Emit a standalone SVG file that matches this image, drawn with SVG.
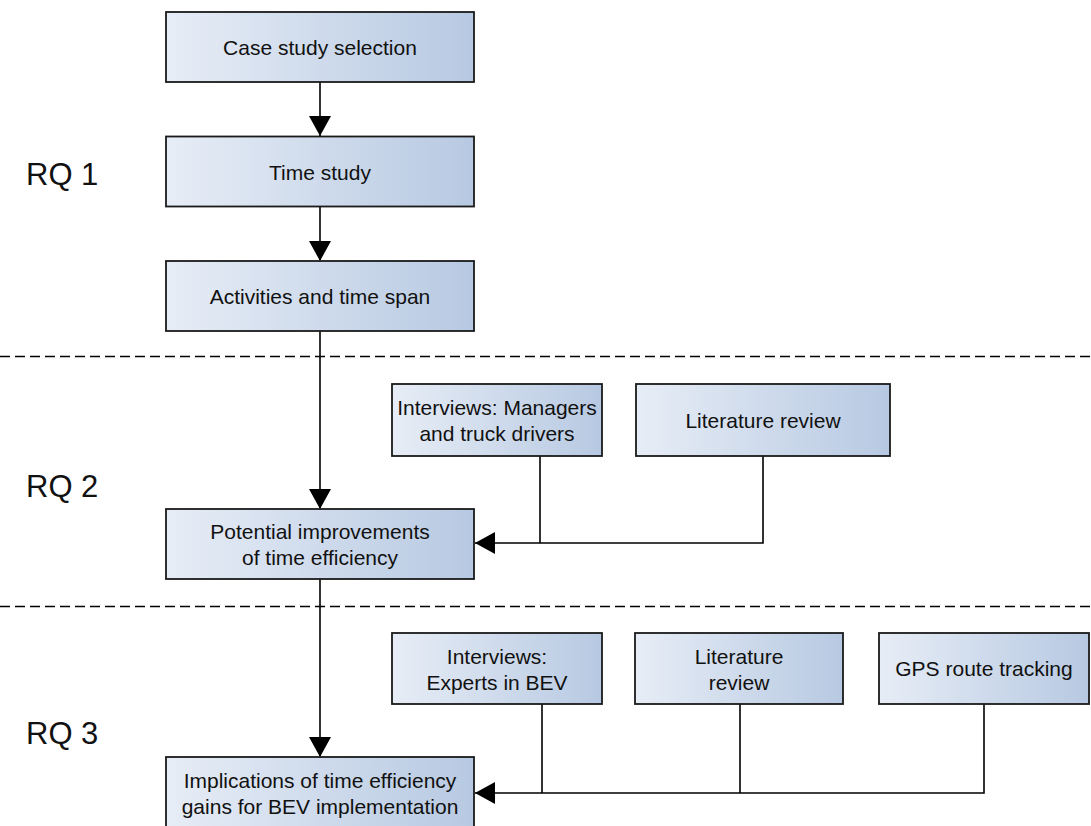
<svg xmlns="http://www.w3.org/2000/svg" width="1091" height="826" viewBox="0 0 1091 826">
  <style>
    .box { fill: url(#boxFill); stroke: #1a1a1a; stroke-width: 1.8; }
    .lbl { font-family: "Liberation Sans", Arial, sans-serif; font-size: 21px; fill: #111; text-anchor: middle; }
    .rq { font-family: "Liberation Sans", Arial, sans-serif; font-size: 31px; fill: #111; }
    .conn { fill: none; stroke: #000; stroke-width: 1.6; }
    .sep { stroke: #000; stroke-width: 1.3; stroke-dasharray: 10 5; }
  </style>
  <defs>
    <linearGradient id="boxFill" x1="0" y1="0" x2="1" y2="0">
      <stop offset="0" stop-color="#e7edf6"/>
      <stop offset="1" stop-color="#b7c9e2"/>
    </linearGradient>
    <marker id="arrow" markerUnits="userSpaceOnUse" markerWidth="20" markerHeight="22" refX="20" refY="11" orient="auto" viewBox="0 0 20 22">
      <path d="M0,0 L20,11 L0,22 z" fill="#000"/>
    </marker>
  </defs>

  <rect width="1091" height="826" fill="#fff"/>

  <!-- section separators -->
  <line class="sep" x1="0" y1="356.5" x2="1091" y2="356.5"/>
  <line class="sep" x1="0" y1="606.5" x2="1091" y2="606.5"/>

  <!-- research question labels -->
  <text class="rq" x="26" y="185">RQ 1</text>
  <text class="rq" x="26" y="497">RQ 2</text>
  <text class="rq" x="26" y="744">RQ 3</text>

  <!-- connectors -->
  <g id="connectors">
    <path class="conn" d="M320,82 V136" marker-end="url(#arrow)"/>
    <path class="conn" d="M320,207 V261" marker-end="url(#arrow)"/>
    <path class="conn" d="M320,331 V509" marker-end="url(#arrow)"/>
    <path class="conn" d="M320,579 V757" marker-end="url(#arrow)"/>
    <path class="conn" d="M540,456 V543"/>
    <path class="conn" d="M763,456 V543 H475" marker-end="url(#arrow)"/>
    <path class="conn" d="M542,704 V793"/>
    <path class="conn" d="M740,704 V793"/>
    <path class="conn" d="M984,704 V793 H475" marker-end="url(#arrow)"/>
  </g>

  <!-- main chain -->
  <g id="case-study-selection">
    <rect class="box" x="166" y="12" width="308" height="70"/>
    <text class="lbl" x="320" y="55">Case study selection</text>
  </g>
  <g id="time-study">
    <rect class="box" x="166" y="136.5" width="308" height="70"/>
    <text class="lbl" x="320" y="180">Time study</text>
  </g>
  <g id="activities">
    <rect class="box" x="166" y="261" width="308" height="70"/>
    <text class="lbl" x="320" y="304">Activities and time span</text>
  </g>
  <g id="potential-improvements">
    <rect class="box" x="166" y="509" width="308" height="70"/>
    <text class="lbl" x="320" y="539">Potential improvements</text>
    <text class="lbl" x="320" y="565">of time efficiency</text>
  </g>
  <g id="implications">
    <rect class="box" x="166" y="757" width="308" height="71"/>
    <text class="lbl" x="320" y="788">Implications of time efficiency</text>
    <text class="lbl" x="320" y="814">gains for BEV implementation</text>
  </g>

  <!-- RQ 2 inputs -->
  <g id="interviews-managers">
    <rect class="box" x="392" y="384" width="210" height="72"/>
    <text class="lbl" x="497" y="415">Interviews: Managers</text>
    <text class="lbl" x="497" y="441">and truck drivers</text>
  </g>
  <g id="literature-review-rq2">
    <rect class="box" x="636" y="384" width="254" height="72"/>
    <text class="lbl" x="763" y="428">Literature review</text>
  </g>

  <!-- RQ 3 inputs -->
  <g id="interviews-experts">
    <rect class="box" x="392" y="633" width="210" height="71"/>
    <text class="lbl" x="497" y="664">Interviews:</text>
    <text class="lbl" x="497" y="690">Experts in BEV</text>
  </g>
  <g id="literature-review-rq3">
    <rect class="box" x="635" y="633" width="208" height="71"/>
    <text class="lbl" x="739" y="664">Literature</text>
    <text class="lbl" x="739" y="690">review</text>
  </g>
  <g id="gps-route-tracking">
    <rect class="box" x="879" y="633" width="210" height="71"/>
    <text class="lbl" x="984" y="676">GPS route tracking</text>
  </g>
</svg>
